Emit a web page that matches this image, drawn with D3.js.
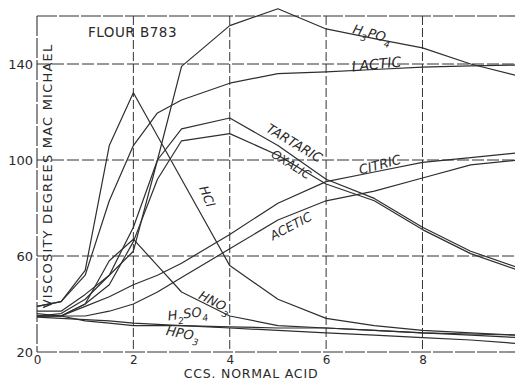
<!DOCTYPE html>
<html>
<head>
<meta charset="utf-8">
<script src="https://cdn.jsdelivr.net/npm/d3@7"></script>
<style>
  html, body { margin: 0; padding: 0; background: #fff; }
  svg { display: block; }
  text { font-family: "DejaVu Sans", "Liberation Sans", sans-serif; fill: #2a2a2a; }
</style>
</head>
<body>
<svg id="chart" width="515" height="382"></svg>
<script>
// ---- data ----
const conc = [0, 0.5, 1, 1.5, 2, 2.5, 3, 4, 5, 6, 7, 8, 9, 10];
const hcl      = [39, 41, 54, 106, 128, 110, 92, 56, 42, 34, 31, 29, 28, 27];
const lactic   = [39, 41, 52, 83, 106, 119.6, 125, 132, 136, 136.7, 137.7, 138.7, 139.2, 139.6];
const h3po4    = [37, 37, 44, 52, 62, 100, 139, 156, 163, 154.6, 150.6, 146.7, 140, 135];
const tartaric = [35, 36, 42, 52, 72, 100, 113, 117.5, 106, 92, 84, 72, 62, 55];
const oxalic   = [35, 35, 40, 48, 66, 92, 108, 111, 102, 90, 83, 71, 61, 54];
const citric   = [35, 35, 39, 43, 48, 52, 57, 69, 82, 91, 95, 99, 101, 103];
const acetic   = [35, 35, 35, 37, 40, 45, 51, 63, 75, 83, 87, 92.5, 98, 100];
const hno3     = [35, 35, 40, 58, 67, 56, 45, 35, 31, 30, 29, 28, 27.5, 27];
const h2so4    = [36, 35, 33, 32, 31, 31, 31, 30.5, 30, 30, 29, 28, 27, 26];
const hpo3     = [34.5, 34, 33.5, 33, 32, 31.5, 31, 30, 29, 28, 27, 26, 25, 23.5];
const xTicks = [0, 2, 4, 6, 8];
const yTicks = [20, 60, 100, 140];
const title = "FLOUR  B783";
const xTitle = "CCS. NORMAL ACID";
const yTitle = "VISCOSITY DEGREES MAC MICHAEL";

const series = [hcl, lactic, h3po4, tartaric, oxalic, citric, acetic, hno3, h2so4, hpo3];

// ---- chart ----
const svg = d3.select("#chart");
const x = d3.scaleLinear().domain([0, 9.92]).range([37, 515]);
const y = d3.scaleLinear().domain([20, 160]).range([352, 16]);
const ink = "#333";

// grid
const grid = svg.append("g");
grid.selectAll("line.v").data(xTicks.slice(1)).join("line")
  .attr("x1", d => x(d)).attr("x2", d => x(d))
  .attr("y1", y(160)).attr("y2", y(20))
  .attr("stroke", ink).attr("stroke-width", 1).attr("stroke-dasharray", "9,3");
grid.selectAll("line.h").data(yTicks.slice(1)).join("line")
  .attr("x1", x(0)).attr("x2", 515)
  .attr("y1", d => y(d)).attr("y2", d => y(d))
  .attr("stroke", ink).attr("stroke-width", 1).attr("stroke-dasharray", "12,3");

// frame: top, left, bottom
svg.append("line").attr("x1", x(0)).attr("x2", 515).attr("y1", y(160)).attr("y2", y(160))
  .attr("stroke", ink).attr("stroke-width", 1.1).attr("stroke-dasharray", "20,2");
svg.append("line").attr("x1", x(0)).attr("x2", x(0)).attr("y1", y(160)).attr("y2", y(20))
  .attr("stroke", ink).attr("stroke-width", 1.1).attr("stroke-dasharray", "20,2");
svg.append("line").attr("x1", x(0)).attr("x2", 515).attr("y1", y(20)).attr("y2", y(20))
  .attr("stroke", ink).attr("stroke-width", 1.1).attr("stroke-dasharray", "20,2");

// axes tick labels via d3 axes
const xAxis = d3.axisBottom(x).tickValues(xTicks).tickSize(0).tickPadding(3).tickFormat(d3.format("d"));
const gx = svg.append("g").attr("transform", `translate(0,${y(20)})`).call(xAxis);
gx.select(".domain").remove();
gx.selectAll("text").attr("font-size", 12).attr("fill", "#2a2a2a");

const yAxis = d3.axisLeft(y).tickValues(yTicks).tickSize(0).tickPadding(4).tickFormat(d3.format("d"));
const gy = svg.append("g").attr("transform", `translate(${x(0)},0)`).call(yAxis);
gy.select(".domain").remove();
gy.selectAll("text").attr("font-size", 13).attr("fill", "#2a2a2a");

// curves
const line = d3.line().x((d, i) => x(conc[i])).y(d => y(d));
svg.append("defs").append("clipPath").attr("id", "clip")
  .append("rect").attr("x", x(0)).attr("y", 0).attr("width", 515 - x(0)).attr("height", y(20));
svg.append("g").attr("clip-path", "url(#clip)")
  .selectAll("path").data(series).join("path")
  .attr("d", line).attr("fill", "none").attr("stroke", "#2e2e2e")
  .attr("stroke-width", 1.2).attr("stroke-linejoin", "round");

// titles
svg.append("text").attr("x", 88).attr("y", 37).attr("font-size", 13.5).attr("letter-spacing", 0.5).text(title);
svg.append("text").attr("x", 251).attr("y", 378).attr("text-anchor", "middle")
  .attr("font-size", 12.5).attr("letter-spacing", 0.8).text(xTitle);
svg.append("text").attr("transform", "translate(52,176) rotate(-90)").attr("text-anchor", "middle")
  .attr("font-size", 13).attr("letter-spacing", 1.2).text(yTitle);

// curve labels
function label(cx, cy, ang, parts, fs) {
  const t = svg.append("text").attr("transform", `translate(${cx},${cy}) rotate(${ang})`)
    .attr("text-anchor", "middle").attr("font-size", fs).attr("font-style", "italic");
  parts.forEach(p => {
    const sp = t.append("tspan").text(p[0]);
    if (p[1]) sp.attr("font-size", fs * 0.7).attr("baseline-shift", "sub");
  });
}
label(371, 38, 15, [["H"], ["3", 1], ["PO"], ["4", 1]], 13);
label(377, 69, -6, [["LACTIC"]], 14);
label(292, 147, 31, [["TARTARIC"]], 13);
label(289, 168, 32, [["OXALIC"]], 12);
label(381, 169, -15, [["CITRIC"]], 13);
label(293, 230, -28, [["ACETIC"]], 12.5);
label(203, 198, 68, [["HCl"]], 12.5);
label(213, 306, 27, [["HNO"], ["3", 1]], 12.5);
label(188, 318, -7, [["H"], ["2", 1], ["SO"], ["4", 1]], 13);
label(182, 338, 10, [["HPO"], ["3", 1]], 13);
</script>
</body>
</html>
